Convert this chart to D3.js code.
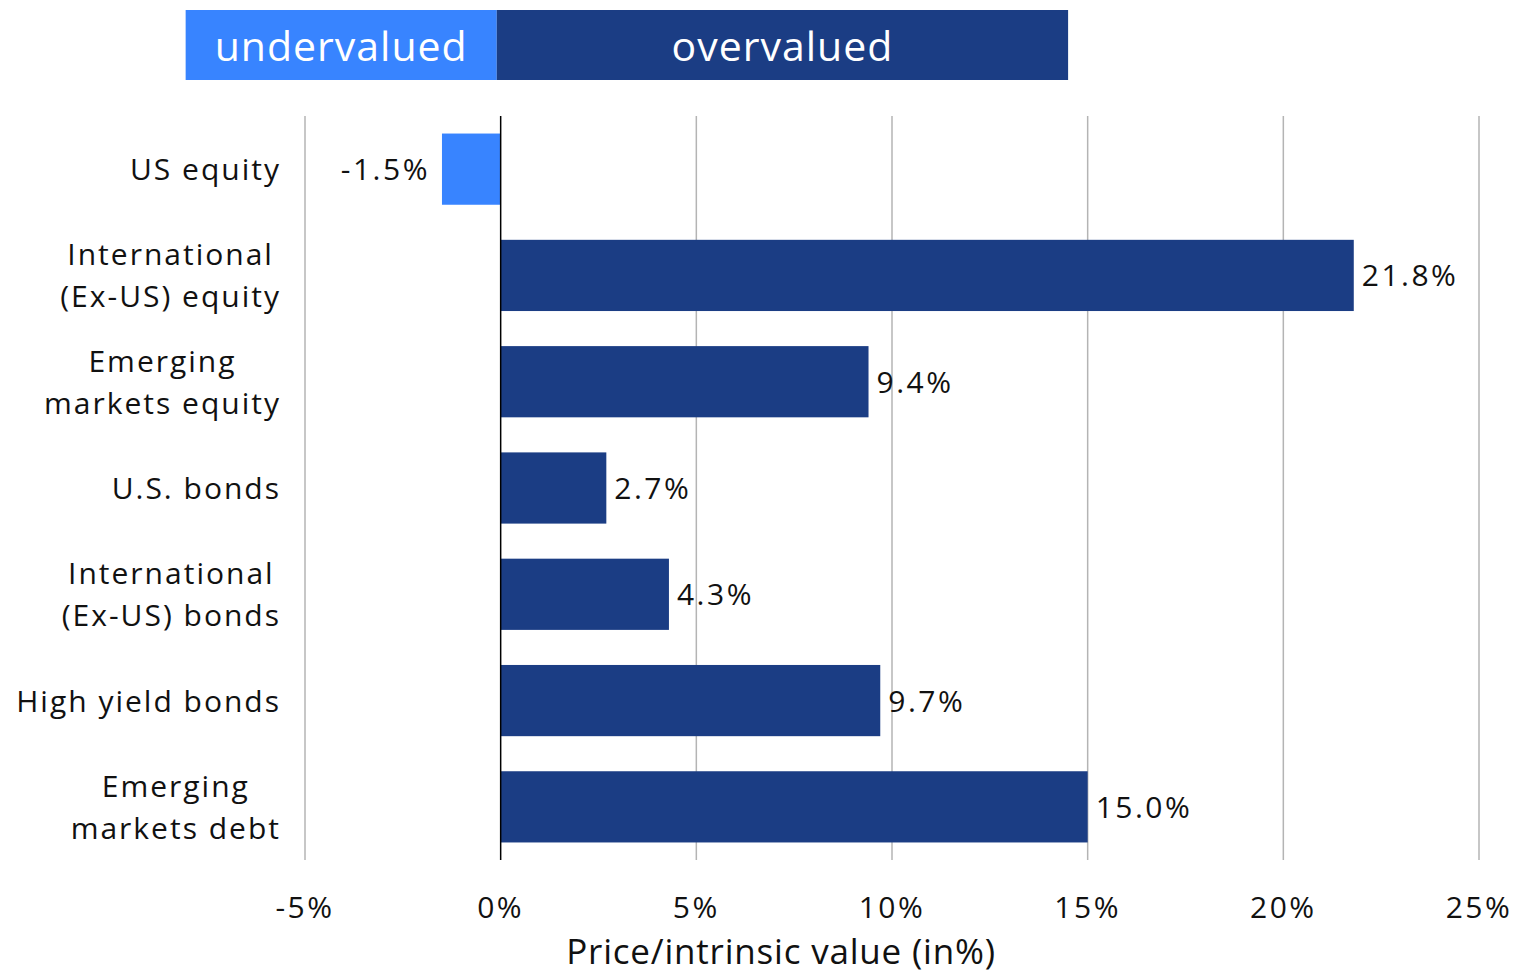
<!DOCTYPE html>
<html>
<head>
<meta charset="utf-8">
<script src="https://cdn.jsdelivr.net/npm/d3@7"></script>
<style>
  body { margin: 0; background: #fff; }
  text { font-family: "Open Sans", "Noto Sans", sans-serif; }
</style>
</head>
<body>
<script>
// Chart data
var categories = [
    ["US equity"],
    ["International", "(Ex-US) equity"],
    ["Emerging", "markets equity"],
    ["U.S. bonds"],
    ["International", "(Ex-US) bonds"],
    ["High yield bonds"],
    ["Emerging", "markets debt"]
];
var values = [-1.5, 21.8, 9.4, 2.7, 4.3, 9.7, 15.0];
var tickValues = [-5, 0, 5, 10, 15, 20, 25];
var headerLabels = ["undervalued", "overvalued"];
var headerEdges = [-8.05, -0.1, 14.5];

var w = 1516, h = 975;
var light = "#3884ff", dark = "#1b3d84";

var svg = d3.select("body").append("svg")
    .attr("width", w)
    .attr("height", h);

// Scales
var x = d3.scaleLinear().domain([-5, 25]).range([305, 1479]);
var y = d3.scaleBand()
    .domain(d3.range(values.length))
    .range([116, 860])
    .paddingInner(0.33)
    .paddingOuter(0.165);

// Header band
var header = svg.append("g").attr("class", "header");
headerLabels.forEach(function(lbl, i){
    var x0 = x(headerEdges[i]), x1 = x(headerEdges[i + 1]);
    header.append("rect")
        .attr("x", x0).attr("y", 10)
        .attr("width", x1 - x0).attr("height", 70)
        .style("fill", i === 0 ? light : dark);
    header.append("text")
        .attr("x", (x0 + x1) / 2).attr("y", 61)
        .attr("text-anchor", "middle")
        .style("font-size", "41px")
        .style("fill", "#fff")
        .style("letter-spacing", "1px")
        .text(lbl);
});

// Gridlines
svg.append("g").selectAll("line")
    .data(tickValues)
    .enter().append("line")
    .attr("x1", function(d){ return x(d); })
    .attr("x2", function(d){ return x(d); })
    .attr("y1", 116).attr("y2", 860)
    .style("stroke", function(d){ return d === 0 ? "none" : "#b4b4b4"; })
    .style("stroke-width", 1.5);

// Bars
svg.append("g").selectAll("rect")
    .data(values)
    .enter().append("rect")
    .attr("x", function(d){ return x(Math.min(0, d)); })
    .attr("y", function(d, i){ return y(i); })
    .attr("width", function(d){ return Math.abs(x(d) - x(0)); })
    .attr("height", y.bandwidth())
    .style("fill", function(d){ return d < 0 ? light : dark; });

// Zero line
svg.append("line")
    .attr("x1", x(0)).attr("x2", x(0))
    .attr("y1", 116).attr("y2", 860)
    .style("stroke", "#000").style("stroke-width", 1.5);

// Value labels
svg.append("g").selectAll("text")
    .data(values)
    .enter().append("text")
    .attr("x", function(d){ return d < 0 ? x(d) - 12 : x(d) + 8; })
    .attr("y", function(d, i){ return y(i) + y.bandwidth() / 2 + 11; })
    .attr("text-anchor", function(d){ return d < 0 ? "end" : "start"; })
    .style("font-size", "30px")
    .style("letter-spacing", "2.5px")
    .style("fill", "#111")
    .text(function(d){ return d.toFixed(1) + "%"; });

// Category labels (multi-line, block right-aligned, lines centered)
var labelRight = 281, lineH = 42;
categories.forEach(function(lines, i){
    var g = svg.append("g");
    var cy = y(i) + y.bandwidth() / 2;
    var texts = lines.map(function(line, j){
        return g.append("text")
            .attr("y", cy + 11 + (j - (lines.length - 1) / 2) * lineH)
            .attr("text-anchor", "middle")
            .style("font-size", "30px")
            .style("letter-spacing", "2px")
            .style("fill", "#111")
            .text(line);
    });
    var maxW = d3.max(texts, function(t){ return t.node().getComputedTextLength(); });
    texts.forEach(function(t){ t.attr("x", labelRight - maxW / 2); });
});

// X axis tick labels
svg.append("g").selectAll("text")
    .data(tickValues)
    .enter().append("text")
    .attr("x", function(d){ return x(d); })
    .attr("y", 918)
    .attr("text-anchor", "middle")
    .style("font-size", "30px")
    .style("letter-spacing", "2.5px")
    .style("fill", "#111")
    .text(function(d){ return d + "%"; });

// Axis title
svg.append("text")
    .attr("x", 781).attr("y", 964)
    .attr("text-anchor", "middle")
    .style("font-size", "35px")
    .style("letter-spacing", "0.8px")
    .style("fill", "#111")
    .text("Price/intrinsic value (in%)");
</script>
</body>
</html>
